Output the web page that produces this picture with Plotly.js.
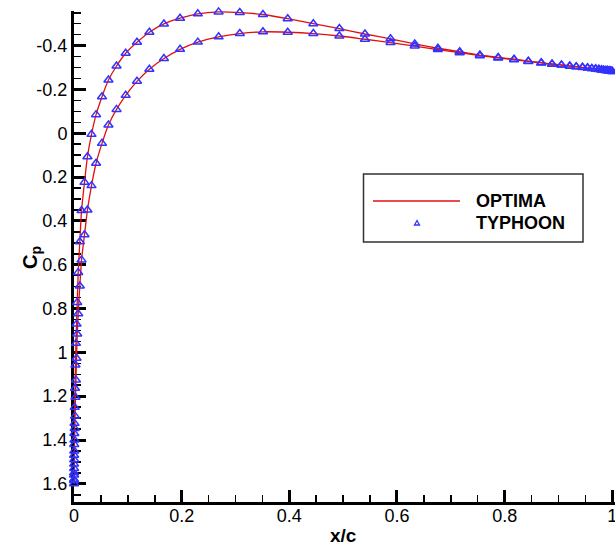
<!DOCTYPE html>
<html>
<head>
<meta charset="utf-8">
<script src="https://cdn.plot.ly/plotly-3.0.1.min.js"></script>
<style>html,body{margin:0;padding:0;background:#fff;}#chart{width:615px;height:551px;}</style>
</head>
<body>
<div id="chart"></div>
<script>
// ---- TYPHOON (triangles) ----
const typhoonUpperX = [0.00003,0.00008,0.00015,0.00025,0.0004,0.0006,0.0009,0.0013,0.0019,0.0027,0.0036,0.0047,0.006,0.0078,0.0108,0.014,0.0195,0.025,0.0325,0.041,0.052,0.064,0.079,0.096,0.117,0.140,0.167,0.197,0.230,0.2686,0.308,0.351,0.397,0.4446,0.493,0.5405,0.588,0.633,0.676,0.7165,0.754,0.788,0.8175,0.844,0.868,0.888,0.9056,0.921,0.933,0.9446,0.954,0.962,0.969,0.975,0.980,0.984,0.988,0.991,0.994,0.996,0.998,1.0];
const typhoonUpperCp = [1.58,1.55,1.51,1.47,1.42,1.37,1.324,1.251,1.164,1.058,0.959,0.871,0.772,0.635,0.495,0.353,0.224,0.107,0.005,-0.085,-0.167,-0.243,-0.307,-0.365,-0.415,-0.461,-0.499,-0.525,-0.545,-0.554,-0.551,-0.542,-0.523,-0.500,-0.478,-0.453,-0.431,-0.408,-0.388,-0.372,-0.357,-0.346,-0.338,-0.329,-0.322,-0.316,-0.312,-0.307,-0.304,-0.301,-0.299,-0.296,-0.294,-0.292,-0.290,-0.288,-0.287,-0.286,-0.285,-0.284,-0.283,-0.282];
const typhoonLowerX = [0.00003,0.00008,0.00015,0.00025,0.0004,0.0006,0.0009,0.0013,0.0019,0.0027,0.0036,0.0047,0.006,0.0078,0.0108,0.014,0.0195,0.025,0.0325,0.041,0.052,0.064,0.079,0.096,0.117,0.140,0.167,0.197,0.230,0.2686,0.308,0.351,0.397,0.4446,0.493,0.5405,0.588,0.633,0.676,0.7165,0.754,0.788,0.8175,0.844,0.868,0.888,0.9056,0.921,0.933,0.9446,0.954,0.962,0.969,0.975,0.980,0.984,0.988,0.991,0.994,0.996,0.998,1.0];
const typhoonLowerCp = [1.60,1.585,1.56,1.53,1.49,1.45,1.40,1.347,1.291,1.205,1.126,1.027,0.916,0.824,0.697,0.578,0.463,0.350,0.239,0.137,0.046,-0.038,-0.109,-0.173,-0.237,-0.292,-0.341,-0.383,-0.416,-0.440,-0.455,-0.463,-0.461,-0.455,-0.444,-0.429,-0.414,-0.398,-0.382,-0.368,-0.354,-0.344,-0.336,-0.328,-0.321,-0.315,-0.311,-0.306,-0.303,-0.300,-0.298,-0.295,-0.293,-0.291,-0.289,-0.288,-0.287,-0.286,-0.285,-0.284,-0.283,-0.282];

// ---- OPTIMA (line) ----
const optimaUpperX = [0.0,0.00003,0.00015,0.0004,0.0009,0.0019,0.0036,0.006,0.0078,0.0108,0.014,0.0195,0.025,0.0325,0.041,0.052,0.064,0.079,0.096,0.117,0.140,0.167,0.197,0.230,0.2686,0.308,0.351,0.397,0.4446,0.493,0.5405,0.588,0.633,0.676,0.7165,0.754,0.788,0.8175,0.844,0.868,0.888,0.9056,0.921,0.9446,0.962,0.980,0.991,1.0];
const optimaUpperCp = [1.60,1.58,1.51,1.42,1.324,1.164,0.959,0.772,0.635,0.495,0.353,0.224,0.107,0.005,-0.085,-0.167,-0.243,-0.307,-0.365,-0.415,-0.461,-0.499,-0.525,-0.545,-0.554,-0.551,-0.542,-0.523,-0.500,-0.478,-0.453,-0.431,-0.408,-0.388,-0.372,-0.357,-0.346,-0.338,-0.329,-0.322,-0.316,-0.312,-0.307,-0.301,-0.296,-0.290,-0.286,-0.282];
const optimaLowerX = [0.0,0.00003,0.00015,0.0004,0.0009,0.0019,0.0036,0.006,0.0078,0.0108,0.014,0.0195,0.025,0.0325,0.041,0.052,0.064,0.079,0.096,0.117,0.140,0.167,0.197,0.230,0.2686,0.308,0.351,0.397,0.4446,0.493,0.5405,0.588,0.633,0.676,0.7165,0.754,0.788,0.8175,0.844,0.868,0.888,0.9056,0.921,0.9446,0.962,0.980,0.991,1.0];
const optimaLowerCp = [1.60,1.60,1.56,1.49,1.40,1.291,1.126,0.916,0.824,0.697,0.578,0.463,0.350,0.239,0.137,0.046,-0.038,-0.109,-0.173,-0.237,-0.292,-0.341,-0.383,-0.416,-0.440,-0.455,-0.463,-0.461,-0.455,-0.444,-0.429,-0.414,-0.398,-0.382,-0.368,-0.354,-0.344,-0.336,-0.328,-0.321,-0.315,-0.311,-0.306,-0.300,-0.295,-0.289,-0.286,-0.282];

// ---- tick labels ----
const xTickVals = [0,0.2,0.4,0.6,0.8,1];
const xTickText = ["0","0.2","0.4","0.6","0.8","1"];
const yTickVals = [-0.4,-0.2,0,0.2,0.4,0.6,0.8,1,1.2,1.4,1.6];
const yTickText = ["-0.4","-0.2","0","0.2","0.4","0.6","0.8","1","1.2","1.4","1.6"];

const seriesNames = ["OPTIMA","TYPHOON"];
const axisTitles = {x: "x/c", y: "C<sub>p</sub>"};

const W = 615, H = 551, ML = 74, MR = 0, MT = 11, MB = 49;
const pw = W - ML - MR, ph = H - MT - MB;
const px = v => (v - ML) / pw;
const py = v => (H - MB - v) / ph;

const red = '#e01010';
const blue = '#3232ff';
const font = 'Liberation Sans, Arial, sans-serif';

const traces = [
  {x: optimaUpperX, y: optimaUpperCp, mode: 'lines', line: {color: red, width: 1.3, shape: 'spline', smoothing: 0.6}, name: seriesNames[0], hoverinfo: 'skip'},
  {x: optimaLowerX, y: optimaLowerCp, mode: 'lines', line: {color: red, width: 1.3, shape: 'spline', smoothing: 0.6}, name: seriesNames[0], hoverinfo: 'skip'},
  {x: typhoonUpperX, y: typhoonUpperCp, mode: 'markers', cliponaxis: false, marker: {symbol: 'triangle-up-open', size: 8, color: blue, line: {width: 1.5, color: blue}}, name: seriesNames[1]},
  {x: typhoonLowerX, y: typhoonLowerCp, mode: 'markers', cliponaxis: false, marker: {symbol: 'triangle-up-open', size: 8, color: blue, line: {width: 1.5, color: blue}}, name: seriesNames[1]}
];

const layout = {
  width: W, height: H,
  margin: {l: ML, r: MR, t: MT, b: MB},
  paper_bgcolor: '#fff', plot_bgcolor: '#fff',
  showlegend: false,
  font: {family: font, color: '#000', size: 18},
  xaxis: {
    range: [0, 1.005], showgrid: false, zeroline: false,
    showline: true, linecolor: '#000', linewidth: 3, layer: 'below traces',
    ticks: 'inside', ticklen: 12, tickwidth: 3, tickcolor: '#000',
    tickmode: 'array', tickvals: xTickVals, ticktext: xTickText,
    tickfont: {family: font, size: 18, color: '#000'}, ticklabelstandoff: -5,
    ticklabeloverflow: 'allow',
    minor: {tickmode: 'linear', tick0: 0, dtick: 0.05, ticks: 'inside', ticklen: 7, tickwidth: 1.5, tickcolor: '#000', showgrid: false}
  },
  yaxis: {
    range: [1.683, -0.558], autorange: false, showgrid: false, zeroline: false,
    showline: true, linecolor: '#000', linewidth: 3, layer: 'below traces',
    ticks: 'inside', ticklen: 12, tickwidth: 3, tickcolor: '#000',
    tickmode: 'array', tickvals: yTickVals, ticktext: yTickText,
    tickfont: {family: font, size: 18, color: '#000'},
    ticklabeloverflow: 'allow',
    minor: {tickmode: 'linear', tick0: 0, dtick: 0.05, ticks: 'inside', ticklen: 7, tickwidth: 1.5, tickcolor: '#000', showgrid: false}
  },
  shapes: [
    {type: 'rect', xref: 'paper', yref: 'paper', x0: px(363.5), x1: px(583), y0: py(242), y1: py(174), line: {color: '#333', width: 1.5}, fillcolor: '#fff', layer: 'above'},
    {type: 'line', xref: 'paper', yref: 'paper', x0: px(373), x1: px(460), y0: py(201), y1: py(201), line: {color: red, width: 1.3}},
    {type: 'path', xref: 'paper', yref: 'paper', path: 'M' + px(414.5) + ',' + py(225) + ' L' + px(419.5) + ',' + py(225) + ' L' + px(417) + ',' + py(220.5) + ' Z', line: {color: blue, width: 1.3}}
  ],
  annotations: [
    {xref: 'paper', yref: 'paper', x: px(474), y: py(201), xanchor: 'left', yanchor: 'middle', text: '<b>' + seriesNames[0] + '</b>', showarrow: false, font: {family: font, size: 18, color: '#000'}},
    {xref: 'paper', yref: 'paper', x: px(474), y: py(223), xanchor: 'left', yanchor: 'middle', text: '<b>' + seriesNames[1] + '</b>', showarrow: false, font: {family: font, size: 18, color: '#000'}},
    {xref: 'paper', yref: 'paper', x: px(343), y: py(535), xanchor: 'center', yanchor: 'middle', text: '<b>' + axisTitles.x + '</b>', showarrow: false, font: {family: font, size: 19, color: '#000'}},
    {xref: 'paper', yref: 'paper', x: px(31), y: py(257), xanchor: 'center', yanchor: 'middle', textangle: -90, text: '<b>' + axisTitles.y + '</b>', showarrow: false, font: {family: font, size: 20, color: '#000'}}
  ]
};

Plotly.newPlot('chart', traces, layout, {displayModeBar: false, staticPlot: true});
</script>
</body>
</html>
